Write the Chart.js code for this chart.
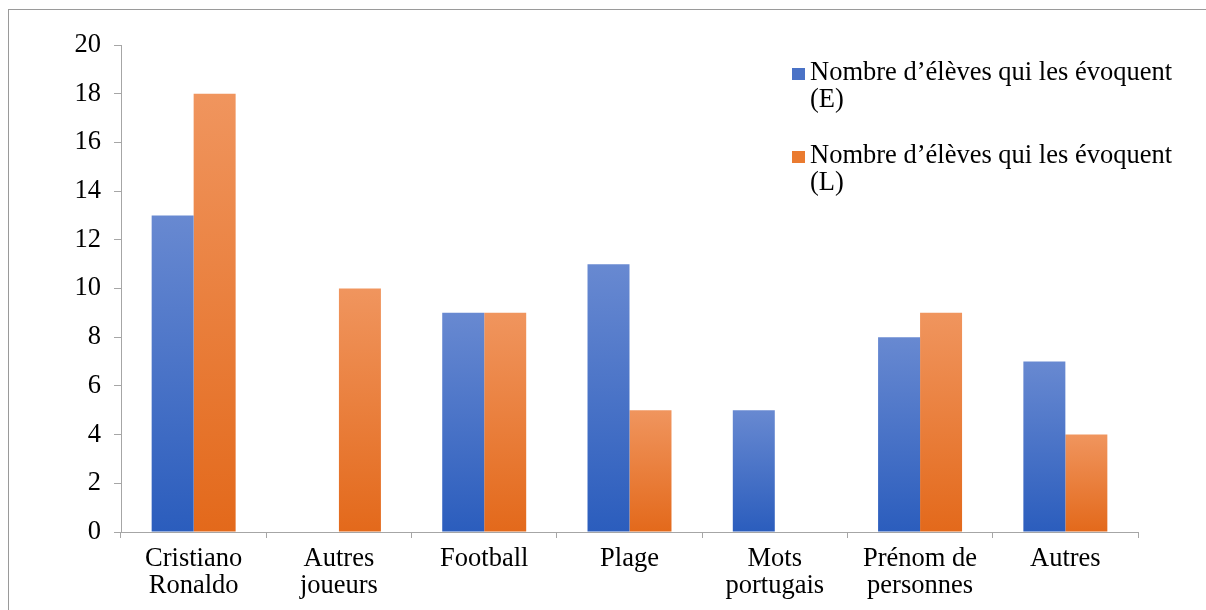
<!DOCTYPE html>
<html>
<head>
<meta charset="utf-8">
<script src="https://cdn.jsdelivr.net/npm/chart.js@4/dist/chart.umd.min.js"></script>
<style>
  html, body { margin: 0; padding: 0; background: #fff; }
  #wrap { position: relative; width: 1206px; height: 610px; overflow: hidden; }
  #frame { position: absolute; left: 8px; top: 9px; width: 1400px; height: 800px;
           border: 1px solid #9a9a9a; box-sizing: border-box; }
  canvas { position: absolute; left: 0; top: 0; }
</style>
</head>
<body>
<div id="wrap">
  <div id="frame"></div>
  <canvas id="c" width="1206" height="610"></canvas>
</div>
<script>
// Themes cited by pupils, counted per group
const categories = [
  ['Cristiano', 'Ronaldo'],
  ['Autres', 'joueurs'],
  'Football',
  'Plage',
  ['Mots', 'portugais'],
  ['Prénom de', 'personnes'],
  'Autres'
];
const seriesLabels = [
  ['Nombre d\u2019élèves qui les évoquent', '(E)'],
  ['Nombre d\u2019élèves qui les évoquent', '(L)']
];
const valuesE = [13, 0, 9, 11, 5, 8, 7];
const valuesL = [18, 10, 9, 5, 0, 9, 4];
const yTicks = [0, 2, 4, 6, 8, 10, 12, 14, 16, 18, 20];

const FONT = '"Liberation Serif", "Times New Roman", serif';
const FSIZE = 26.5;
const AXIS = '#a6a6a6';

// Each bar gets its own vertical gradient, light at the top, deep at the base
function barGradient(top, bottom) {
  return function (ctx) {
    const chart = ctx.chart;
    if (!chart.chartArea || ctx.type !== 'data') return bottom;
    const ys = chart.scales.y;
    const v = ctx.raw || 0;
    const y0 = ys.getPixelForValue(0);
    const y1 = ys.getPixelForValue(v);
    if (Math.abs(y0 - y1) < 1) return bottom;
    const g = chart.ctx.createLinearGradient(0, y1, 0, y0);
    g.addColorStop(0, top);
    g.addColorStop(1, bottom);
    return g;
  };
}
const swatches = ['#4a72c6', '#ea7b30'];

// Two-line legend in the upper right of the plot
const sideLegend = {
  id: 'sideLegend',
  afterDraw(chart) {
    const c = chart.ctx;
    c.save();
    c.font = FSIZE + 'px ' + FONT;
    c.textBaseline = 'alphabetic';
    const x0 = 792, xt = 810;
    const bases = [80, 163];
    chart.data.datasets.forEach((ds, i) => {
      const b = bases[i];
      c.fillStyle = swatches[i];
      c.fillRect(x0, b - 12, 13, 12);
      c.fillStyle = '#000';
      ds.label.forEach((line, k) => c.fillText(line, xt, b + k * 27));
    });
    c.restore();
  }
};

new Chart(document.getElementById('c'), {
  type: 'bar',
  data: {
    labels: categories,
    datasets: [
      { label: seriesLabels[0], data: valuesE,
        backgroundColor: barGradient('#6889d1', '#2b5dbd') },
      { label: seriesLabels[1], data: valuesL,
        backgroundColor: barGradient('#f0955e', '#e3691b') }
    ]
  },
  options: {
    responsive: false,
    animation: false,
    categoryPercentage: 0.578,
    barPercentage: 1,
    layout: { padding: { top: 45, right: 68, left: 0, bottom: 0 } },
    plugins: { legend: { display: false }, tooltip: { enabled: false } },
    scales: {
      y: {
        min: 0, max: 20,
        afterBuildTicks(s) { s.ticks = yTicks.map(v => ({ value: v })); },
        afterFit(s) { s.width = 121; },
        ticks: { color: '#000', font: { family: FONT, size: FSIZE }, padding: 13 },
        grid: { drawOnChartArea: false, drawTicks: true, tickLength: 7, color: AXIS },
        border: { color: AXIS, width: 1 }
      },
      x: {
        afterFit(s) { s.height = 78; },
        ticks: { color: '#000', font: { family: FONT, size: FSIZE, lineHeight: 1.02 }, padding: 8, maxRotation: 0, autoSkip: false },
        grid: { offset: true, drawOnChartArea: false, drawTicks: true, tickLength: 6, color: AXIS },
        border: { color: AXIS, width: 1 }
      }
    }
  },
  plugins: [sideLegend]
});
</script>
</body>
</html>
